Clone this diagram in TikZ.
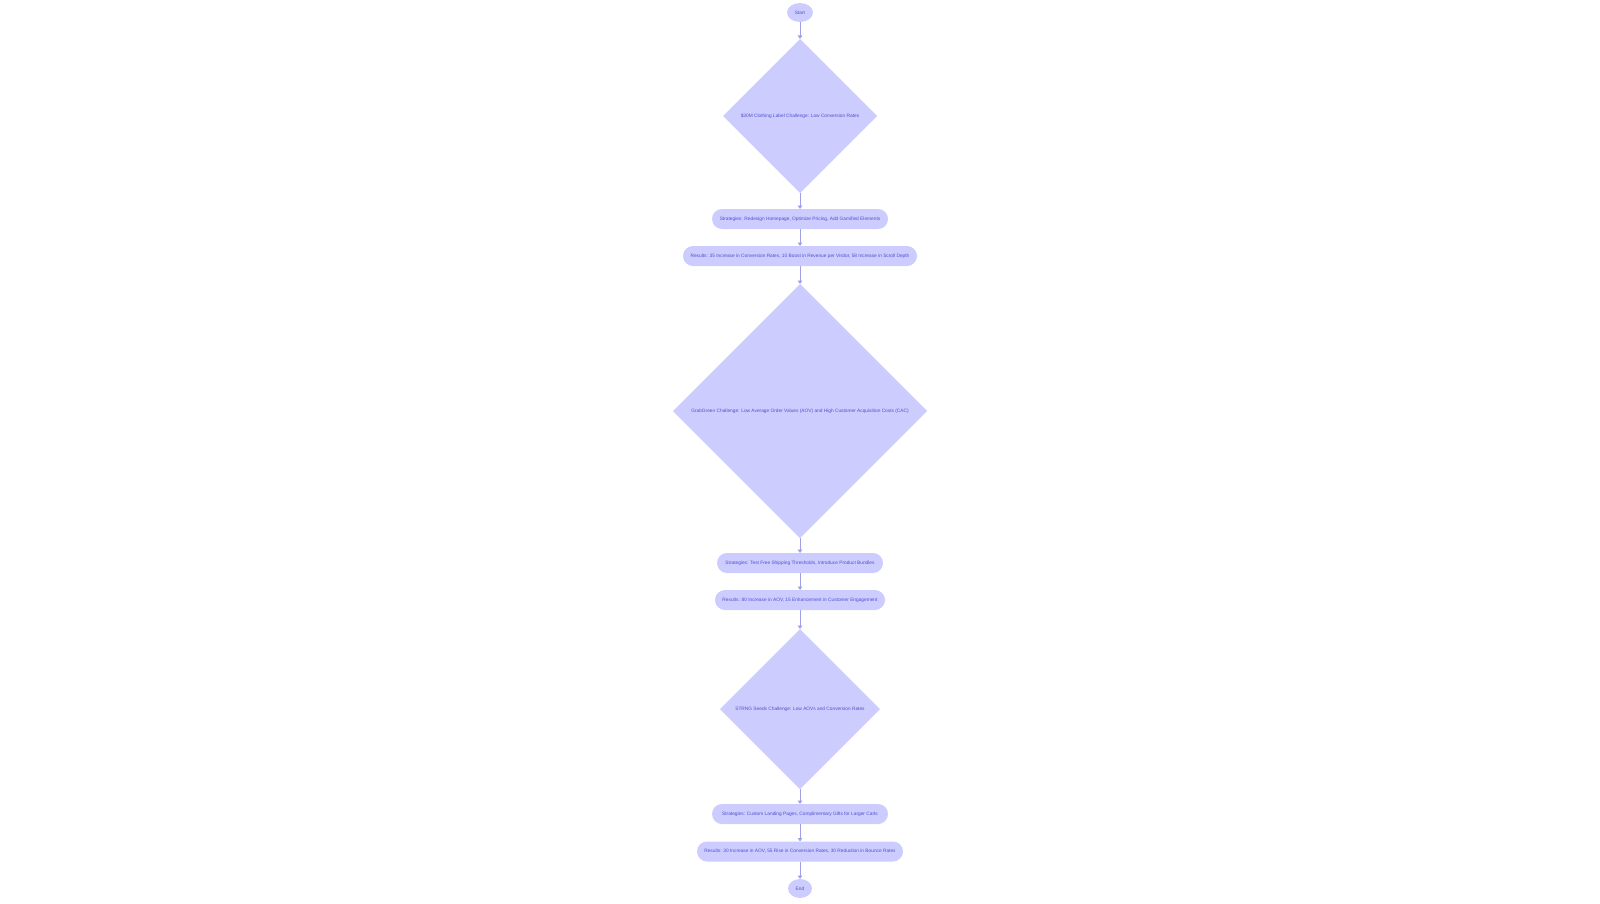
\documentclass[tikz,border=0pt]{standalone}
\usepackage{fontspec}
\setmainfont{Liberation Sans}
\usetikzlibrary{shapes.geometric,arrows.meta}
\definecolor{nodefill}{RGB}{204,204,255}
\definecolor{nodetext}{RGB}{80,80,205}
\definecolor{edgecol}{RGB}{160,160,232}
\tikzset{
  every node/.style={font=\fontsize{4.8}{5.5}\selectfont, text=nodetext, outer sep=0pt, inner sep=0pt},
  terminal/.style={ellipse, fill=nodefill},
  decision/.style={diamond, fill=nodefill, aspect=1},
  stepbox/.style={rectangle, rounded corners=10pt, fill=nodefill, minimum height=20pt},
  flow/.style={draw=edgecol, line width=0.9pt, -{Triangle[width=4.5pt,length=3.5pt]}}
}
\begin{document}
\begin{tikzpicture}[x=1pt,y=-1pt]
\useasboundingbox (0,0) rectangle (1600,903);
\node[terminal, minimum width=26pt, minimum height=19pt] (start) at (800,12.5) {Start};
\node[decision, minimum width=154pt, minimum height=154pt] (d1) at (800,116) {\$30M Clothing Label Challenge: Low Conversion Rates};
\node[stepbox, minimum width=176pt] (s1) at (800,219) {Strategies: Redesign Homepage, Optimize Pricing, Add Gamified Elements};
\node[stepbox, minimum width=234pt] (r1) at (800,256) {Results: 35 Increase in Conversion Rates, 10 Boost in Revenue per Visitor, 58 Increase in Scroll Depth};
\node[decision, minimum width=254pt, minimum height=254pt] (d2) at (800,411) {GrabGreen Challenge: Low Average Order Values (AOV) and High Customer Acquisition Costs (CAC)};
\node[stepbox, minimum width=166pt] (s2) at (800,563) {Strategies: Test Free Shipping Thresholds, Introduce Product Bundles};
\node[stepbox, minimum width=170pt] (r2) at (800,600) {Results: 80 Increase in AOV, 15 Enhancement in Customer Engagement};
\node[decision, minimum width=160pt, minimum height=160pt] (d3) at (800,709) {STRNG Seeds Challenge: Low AOVs and Conversion Rates};
\node[stepbox, minimum width=176pt] (s3) at (800,814) {Strategies: Custom Landing Pages, Complimentary Gifts for Larger Carts};
\node[stepbox, minimum width=206pt] (r3) at (800,851.5) {Results: 30 Increase in AOV, 55 Rise in Conversion Rates, 30 Reduction in Bounce Rates};
\node[terminal, minimum width=24pt, minimum height=19pt] (end) at (800,888.5) {End};
\draw[flow] (start) -- (d1);
\draw[flow] (d1) -- (s1);
\draw[flow] (s1) -- (r1);
\draw[flow] (r1) -- (d2);
\draw[flow] (d2) -- (s2);
\draw[flow] (s2) -- (r2);
\draw[flow] (r2) -- (d3);
\draw[flow] (d3) -- (s3);
\draw[flow] (s3) -- (r3);
\draw[flow] (r3) -- (end);
\end{tikzpicture}
\end{document}
